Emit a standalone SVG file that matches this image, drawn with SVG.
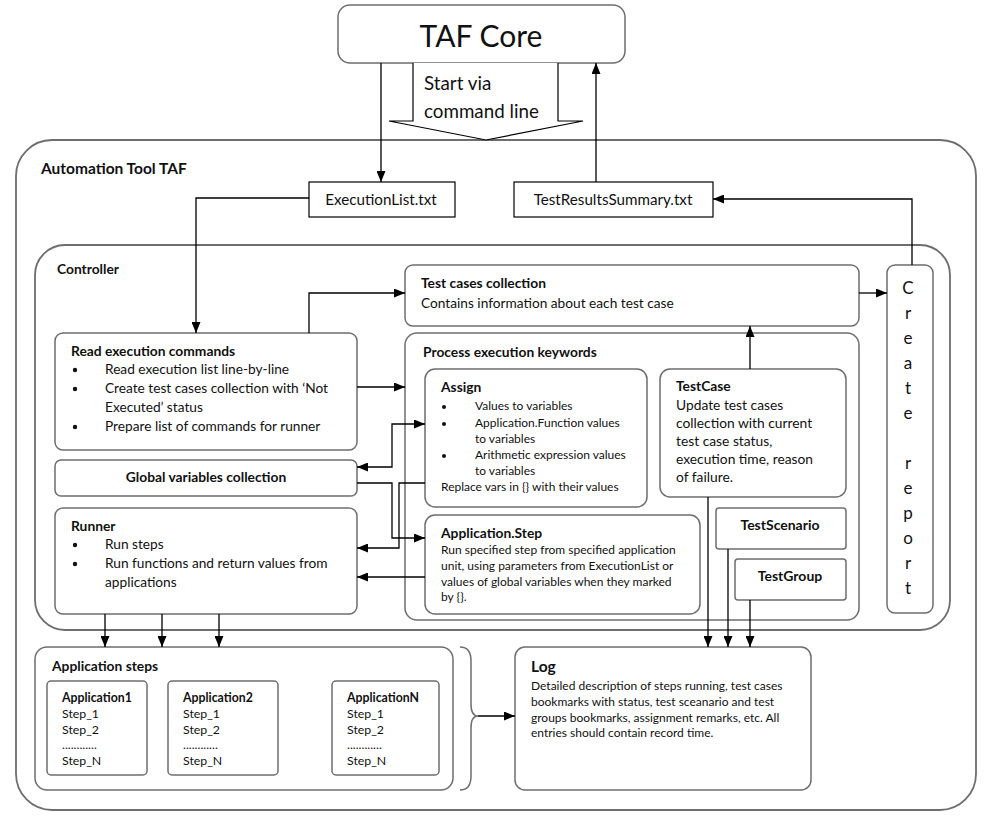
<svg xmlns="http://www.w3.org/2000/svg" width="996" height="817" viewBox="0 0 996 817">
<style>
.box{fill:#fff;stroke:#6e6e6e;stroke-width:1.5}
.frame{fill:none;stroke:#6e6e6e;stroke-width:1.8}
.file{fill:#fff;stroke:#000;stroke-width:1.2}
.conn{fill:none;stroke:#000;stroke-width:1.3}
text{font-family:Lato,"Open Sans","Liberation Sans",sans-serif;fill:#111}
.b{font-weight:bold}
.t13{font-size:13.8px}
.t12{font-size:13.7px}
.t11{font-size:12px}
.mid{text-anchor:middle}
</style>
<defs>
<marker id="ah" viewBox="0 0 11 9" refX="11" refY="4.5" markerWidth="11" markerHeight="9" markerUnits="userSpaceOnUse" orient="auto-start-reverse">
<path d="M0,0 L11,4.5 L0,9 z" fill="#000"/>
</marker>
</defs>
<rect width="996" height="817" fill="#fff"/>

<g id="automation-tool">
<rect class="frame" x="16" y="140" width="960" height="670" rx="36"/>
<text class="b" x="41" y="174" style="font-size:15.5px">Automation Tool TAF</text>
</g>

<g id="controller">
<rect class="frame" x="35" y="245" width="915" height="385" rx="30"/>
<text class="b" x="57" y="274" style="font-size:13.8px">Controller</text>
</g>

<g id="taf-core">
<rect class="box" x="338" y="5" width="287" height="58" rx="12"/>
<text class="mid" x="481" y="47" style="font-size:30px">TAF Core</text>
</g>

<g id="start-arrow">
<path d="M413,63 V121 H389 L486,140 L583,121 H558 V63" fill="#fff" stroke="#000" stroke-width="1.2"/>
<text x="424" y="90" style="font-size:18.8px">Start via</text>
<text x="424" y="118" style="font-size:18.8px">command line</text>
</g>

<g id="execution-list">
<rect class="file" x="309" y="182" width="146" height="35"/>
<text class="mid" x="381" y="205" style="font-size:15.2px">ExecutionList.txt</text>
</g>

<g id="test-results-summary">
<rect class="file" x="514" y="182" width="199" height="35"/>
<text class="mid" x="613" y="205" style="font-size:15.2px">TestResultsSummary.txt</text>
</g>

<g id="test-cases-collection">
<rect class="box" x="405" y="265" width="454" height="61" rx="8"/>
<text class="b t13" x="421" y="288">Test cases collection</text>
<text class="t12" x="421" y="308">Contains information about each test case</text>
</g>

<g id="create-report">
<rect class="box" x="887" y="265" width="46" height="348" rx="8"/>
<g class="mid" style="font-size:17px">
<text x="908" y="294">C</text>
<text x="908" y="319">r</text>
<text x="908" y="344">e</text>
<text x="908" y="369">a</text>
<text x="908" y="394">t</text>
<text x="908" y="419">e</text>
<text x="908" y="469">r</text>
<text x="908" y="494">e</text>
<text x="908" y="519">p</text>
<text x="908" y="544">o</text>
<text x="908" y="569">r</text>
<text x="908" y="594">t</text>
</g>
</g>

<g id="read-execution-commands">
<rect class="box" x="55" y="333" width="302" height="117" rx="8"/>
<text class="b t13" x="71" y="356">Read execution commands</text>
<g class="t12">
<circle cx="75" cy="370" r="2.2" fill="#111"/>
<text x="105" y="374">Read execution list line-by-line</text>
<circle cx="75" cy="389" r="2.2" fill="#111"/>
<text x="105" y="393">Create test cases collection with ‘Not</text>
<text x="105" y="412">Executed’ status</text>
<circle cx="75" cy="427" r="2.2" fill="#111"/>
<text x="105" y="431">Prepare list of commands for runner</text>
</g>
</g>

<g id="global-variables">
<rect class="box" x="55" y="460" width="302" height="36" rx="6"/>
<text class="b t13 mid" x="206" y="482">Global variables collection</text>
</g>

<g id="runner">
<rect class="box" x="55" y="508" width="302" height="106" rx="8"/>
<text class="b t13" x="71" y="531">Runner</text>
<g class="t12">
<circle cx="75" cy="545" r="2.2" fill="#111"/>
<text x="105" y="549">Run steps</text>
<circle cx="75" cy="564" r="2.2" fill="#111"/>
<text x="105" y="568">Run functions and return values from</text>
<text x="105" y="587">applications</text>
</g>
</g>

<g id="process-execution-keywords">
<rect class="box" x="405" y="333" width="454" height="287" rx="12"/>
<text class="b t13" x="423" y="357">Process execution keywords</text>
</g>

<g id="assign">
<rect class="box" x="425" y="369" width="222" height="138" rx="10"/>
<text class="b t13" x="441" y="392">Assign</text>
<g class="t11">
<circle cx="444" cy="407" r="2" fill="#111"/>
<text x="475" y="410">Values to variables</text>
<circle cx="444" cy="424" r="2" fill="#111"/>
<text x="475" y="427">Application.Function  values</text>
<text x="475" y="443">to variables</text>
<circle cx="444" cy="456" r="2" fill="#111"/>
<text x="475" y="459">Arithmetic expression values</text>
<text x="475" y="475">to variables</text>
<text x="441" y="491">Replace vars in {} with  their values</text>
</g>
</g>

<g id="application-step">
<rect class="box" x="425" y="515" width="275" height="99" rx="10"/>
<text class="b t13" x="441" y="538">Application.Step</text>
<g class="t11">
<text x="441" y="554">Run specified step from specified application</text>
<text x="441" y="570">unit, using parameters from ExecutionList or</text>
<text x="441" y="586">values of global variables when they marked</text>
<text x="441" y="601">by {}.</text>
</g>
</g>

<g id="testcase">
<rect class="box" x="660" y="369" width="186" height="128" rx="10"/>
<text class="b t13" x="676" y="391">TestCase</text>
<g style="font-size:13.8px">
<text x="676" y="410">Update test cases</text>
<text x="676" y="428">collection with current</text>
<text x="676" y="446">test case status,</text>
<text x="676" y="464">execution time, reason</text>
<text x="676" y="482">of failure.</text>
</g>
</g>

<g id="testscenario">
<rect class="box" x="716" y="508" width="130" height="41" rx="3"/>
<text class="b mid" x="780" y="530" style="font-size:14px">TestScenario</text>
</g>

<g id="testgroup">
<rect class="box" x="735" y="559" width="111" height="41" rx="3"/>
<text class="b mid" x="790" y="581" style="font-size:14px">TestGroup</text>
</g>

<g id="application-steps">
<rect class="box" x="35" y="647" width="418" height="143" rx="12"/>
<text class="b t13" x="52" y="671">Application steps</text>
</g>

<g id="application1">
<rect class="box" x="47" y="681" width="100" height="94" rx="4"/>
<text class="b" x="62" y="702" style="font-size:12.3px">Application1</text>
<g style="font-size:12.3px">
<text x="62" y="718">Step_1</text>
<text x="62" y="734">Step_2</text>
<text x="62" y="749">............</text>
<text x="62" y="765">Step_N</text>
</g>
</g>

<g id="application2">
<rect class="box" x="168" y="681" width="110" height="94" rx="4"/>
<text class="b" x="183" y="702" style="font-size:12.3px">Application2</text>
<g style="font-size:12.3px">
<text x="183" y="718">Step_1</text>
<text x="183" y="734">Step_2</text>
<text x="183" y="749">............</text>
<text x="183" y="765">Step_N</text>
</g>
</g>

<g id="applicationN">
<rect class="box" x="332" y="681" width="107" height="94" rx="4"/>
<text class="b" x="347" y="702" style="font-size:12.3px">ApplicationN</text>
<g style="font-size:12.3px">
<text x="347" y="718">Step_1</text>
<text x="347" y="734">Step_2</text>
<text x="347" y="749">............</text>
<text x="347" y="765">Step_N</text>
</g>
</g>

<g id="log">
<rect class="box" x="515" y="647" width="296" height="143" rx="10"/>
<text class="b" x="531" y="672" style="font-size:15.5px">Log</text>
<g class="t11">
<text x="531" y="690">Detailed description of steps running, test cases</text>
<text x="531" y="706">bookmarks with status,  test sceanario and test</text>
<text x="531" y="722">groups bookmarks, assignment  remarks, etc. All</text>
<text x="531" y="737">entries should contain record time.</text>
</g>
</g>

<g id="connectors">
<path class="conn" d="M381,63 V182" marker-end="url(#ah)"/>
<path class="conn" d="M596,182 V63" marker-end="url(#ah)"/>
<path class="conn" d="M309,198 H196 V333" marker-end="url(#ah)"/>
<path class="conn" d="M912,265 V199 H713" marker-end="url(#ah)"/>
<path class="conn" d="M309,333 V293 H405" marker-end="url(#ah)"/>
<path class="conn" d="M859,293 H887" marker-end="url(#ah)"/>
<path class="conn" d="M357,387 H405" marker-end="url(#ah)"/>
<path class="conn" d="M357,467 H392 V424 H425" marker-start="url(#ah)" marker-end="url(#ah)"/>
<path class="conn" d="M357,483 H392 V538 H425" marker-end="url(#ah)"/>
<path class="conn" d="M425,483 H399 V548 H357" marker-end="url(#ah)"/>
<path class="conn" d="M425,577 H357" marker-end="url(#ah)"/>
<path class="conn" d="M105,614 V647" marker-end="url(#ah)"/>
<path class="conn" d="M162,614 V647" marker-end="url(#ah)"/>
<path class="conn" d="M219,614 V647" marker-end="url(#ah)"/>
<path class="conn" d="M750,369 V326" marker-end="url(#ah)"/>
<path class="conn" d="M708,497 V647" marker-end="url(#ah)"/>
<path class="conn" d="M728,549 V647" marker-end="url(#ah)"/>
<path class="conn" d="M750,600 V647" marker-end="url(#ah)"/>
<path d="M460,647 Q471,647 471,661 V704 Q471,716 478,716 Q471,716 471,728 V776 Q471,790 460,790" fill="none" stroke="#6e6e6e" stroke-width="1.5"/>
<path class="conn" d="M478,716 H515" marker-end="url(#ah)"/>
</g>
</svg>
